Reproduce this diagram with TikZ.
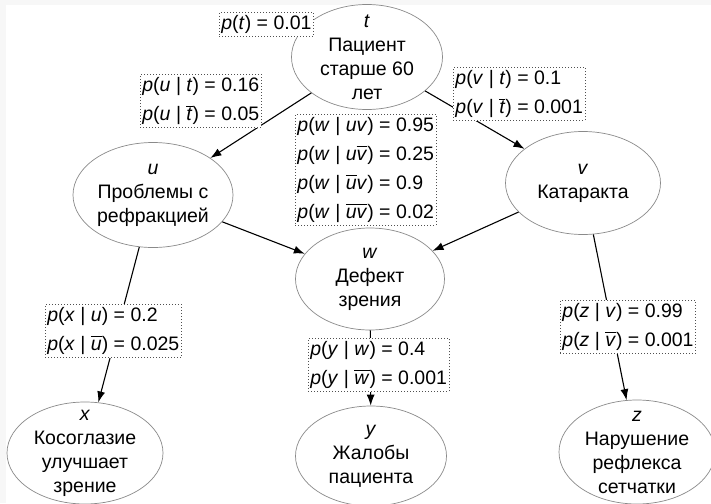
\documentclass[tikz,border=0pt]{standalone}
\usepackage{fontspec}
\setmainfont{Liberation Sans}
\usetikzlibrary{shapes.geometric,arrows.meta}
\newcommand{\olv}[1]{$\overline{\mbox{\textit{#1}\vphantom{I}}}$}
\definecolor{bggray}{HTML}{F7F7F7}
\definecolor{ellgray}{HTML}{8A8A8A}
\definecolor{dotgray}{HTML}{505050}
\begin{document}
\begin{tikzpicture}[x=1pt,y=-1pt,
  ell/.style={ellipse, draw=ellgray, line width=0.7pt, inner sep=0pt},
  etext/.style={align=center, inner sep=0pt, font=\fontsize{19.5}{24}\selectfont},
  edge/.style={line width=1.1pt, -{Latex[length=11pt,width=8pt]}},
  prob/.style={draw=dotgray, line width=0.8pt, dash pattern=on 0.8pt off 2.2pt,
    fill=white, align=left, inner xsep=2pt, inner ysep=3pt, anchor=north west,
    font=\fontsize{19.5}{29}\selectfont}]
\useasboundingbox (0,0) rectangle (711,503);
\clip (0,0) rectangle (711,503);
\fill[bggray] (0,0) rectangle (711,503);
\fill[white] (6,5) rectangle (711,503);

% ellipses
\node[ell, minimum width=151pt, minimum height=105pt] (t) at (367,57) {};
\node[etext] (tt) at (t) {\textit{t}\\Пациент\\старше 60\\лет};
\node[ell, minimum width=160pt, minimum height=105pt] (u) at (153,195) {};
\node[etext] (ut) at (u) {\textit{u}\\Проблемы с\\рефракцией};
\node[ell, minimum width=155pt, minimum height=103pt] (v) at (583,183) {};
\node[etext] (vt) at (v) {\textit{v}\\Катаракта};
\node[ell, minimum width=149pt, minimum height=102pt] (w) at (370,279) {};
\node[etext] (wt) at (w) {\textit{w}\\Дефект\\зрения};
\node[ell, minimum width=156pt, minimum height=102pt] (x) at (85,453) {};
\node[etext] (xt) at (x) {\textit{x}\\Косоглазие\\улучшает\\зрение};
\node[ell, minimum width=151pt, minimum height=100pt] (y) at (371,456) {};
\node[etext] (yt) at (y) {\textit{y}\\Жалобы\\пациента};
\node[ell, minimum width=156pt, minimum height=104pt] (z) at (637,452) {};
\node[etext] (zt) at (z) {\textit{z}\\Нарушение\\рефлекса\\сетчатки};

% connectors
\draw[edge] (t) -- (u);
\draw[edge] (t) -- (v);
\draw[edge] (u) -- (w);
\draw[edge] (v) -- (w);
\draw[edge] (u) -- (x);
\draw[edge] (w) -- (y);
\draw[edge] (v) -- (z);

% probability tables
\node[prob] (pt) at (219,12) {\textit{p}(\textit{t}) = 0.01};
\node[prob] (put) at (140,74) {\textit{p}(\textit{u} | \textit{t}) = 0.16\\\textit{p}(\textit{u} | \olv{t}) = 0.05};
\node[prob] (pvt) at (453,67) {\textit{p}(\textit{v} | \textit{t}) = 0.1\\\textit{p}(\textit{v} | \olv{t}) = 0.001};
\node[prob] (pw) at (295,114) {\textit{p}(\textit{w} | \textit{uv}) = 0.95\\\textit{p}(\textit{w} | \textit{u}\olv{v}) = 0.25\\\textit{p}(\textit{w} | \olv{u}\textit{v}) = 0.9\\\textit{p}(\textit{w} | \olv{u}\olv{v}) = 0.02};
\node[prob] (pxu) at (45,304) {\textit{p}(\textit{x} | \textit{u}) = 0.2\\\textit{p}(\textit{x} | \olv{u}) = 0.025};
\node[prob] (pyw) at (308,338) {\textit{p}(\textit{y} | \textit{w}) = 0.4\\\textit{p}(\textit{y} | \olv{w}) = 0.001};
\node[prob] (pzv) at (560,300) {\textit{p}(\textit{z} | \textit{v}) = 0.99\\\textit{p}(\textit{z} | \olv{v}) = 0.001};
\end{tikzpicture}
\end{document}
